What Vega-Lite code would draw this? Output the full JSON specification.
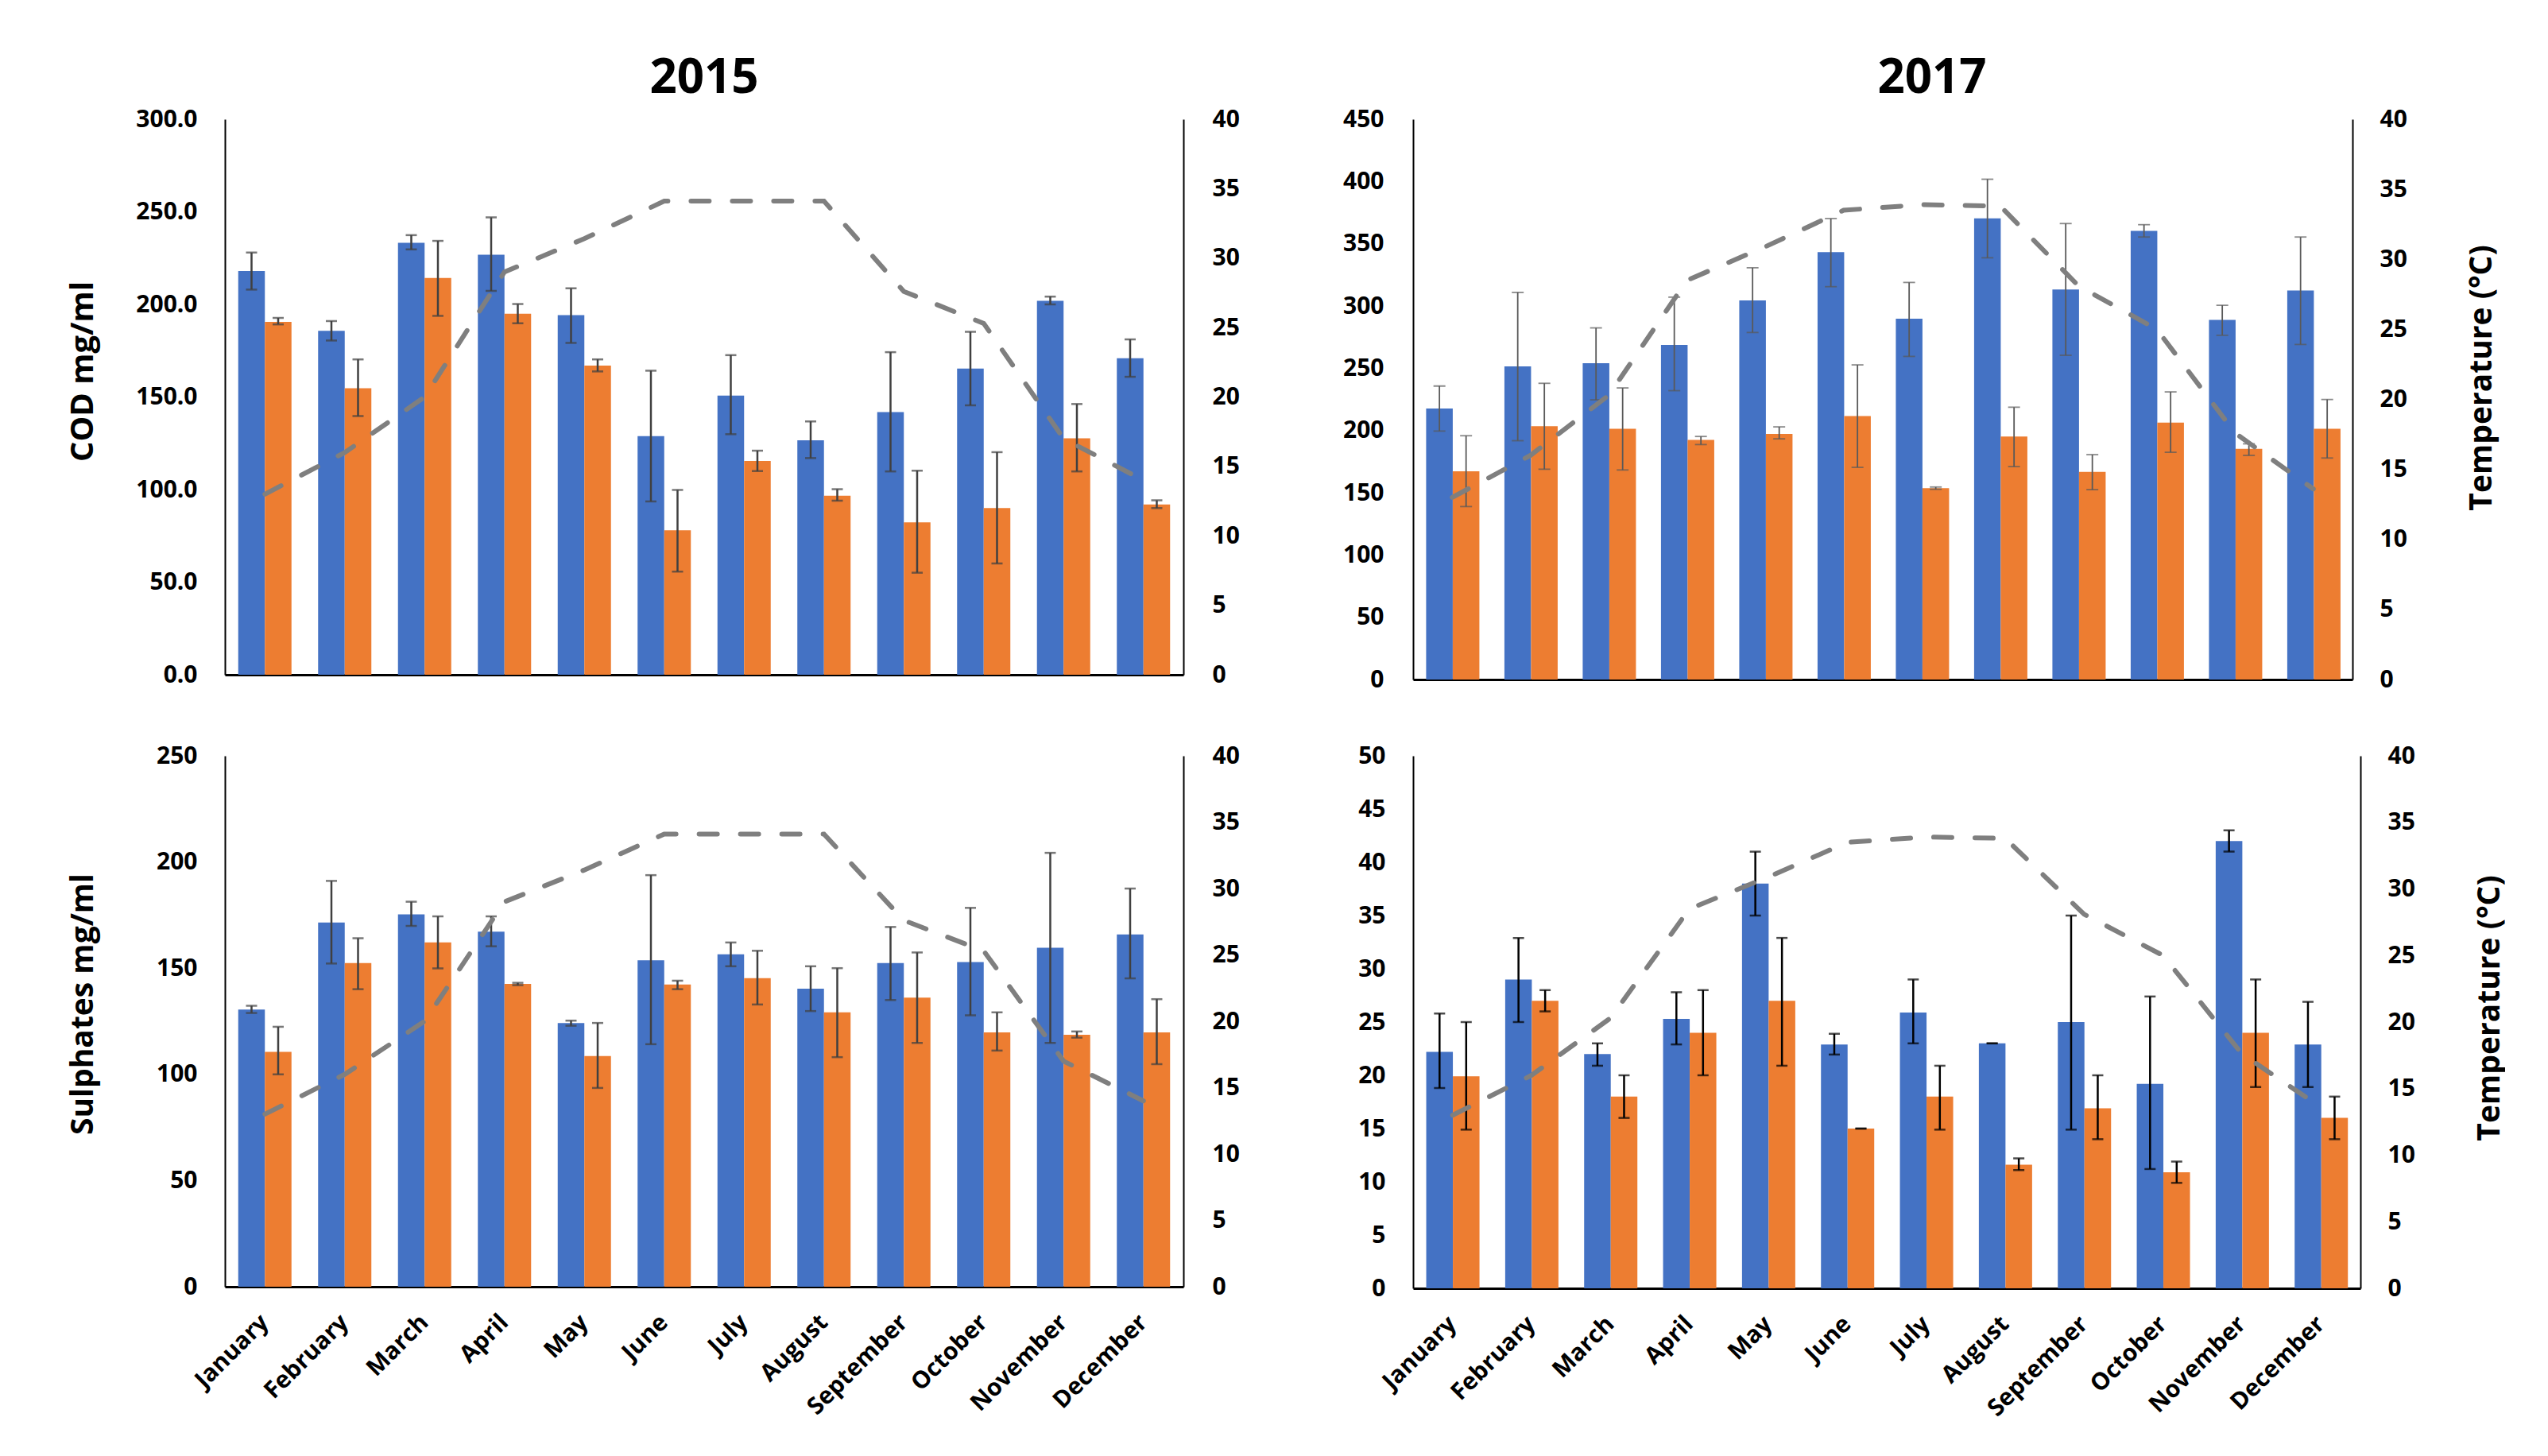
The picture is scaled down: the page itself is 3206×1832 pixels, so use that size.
{
  "$schema": "https://vega.github.io/schema/vega-lite/v6.json",
  "background": "white",
  "padding": {"left": 84, "top": 69, "right": 0, "bottom": 0},
  "config": {"view": {"stroke": null}, "font": "Open Sans"},
  "datasets": {
    "cod2015": [
      {"month": "January", "series": "a", "value": 218, "lo": 208, "hi": 228},
      {"month": "January", "series": "b", "value": 190.6, "lo": 189.2, "hi": 192.7},
      {"month": "February", "series": "a", "value": 185.7, "lo": 180.5, "hi": 191},
      {"month": "February", "series": "b", "value": 154.7, "lo": 139.7, "hi": 170.3},
      {"month": "March", "series": "a", "value": 233.3, "lo": 229.7, "hi": 237.4},
      {"month": "March", "series": "b", "value": 214.3, "lo": 193.8, "hi": 234.3},
      {"month": "April", "series": "a", "value": 226.8, "lo": 207.3, "hi": 247},
      {"month": "April", "series": "b", "value": 195, "lo": 189.8, "hi": 200.2},
      {"month": "May", "series": "a", "value": 194.2, "lo": 179.2, "hi": 208.7},
      {"month": "May", "series": "b", "value": 166.9, "lo": 163.8, "hi": 170.3},
      {"month": "June", "series": "a", "value": 128.9, "lo": 93.6, "hi": 164.2},
      {"month": "June", "series": "b", "value": 78, "lo": 55.7, "hi": 99.8},
      {"month": "July", "series": "a", "value": 150.7, "lo": 129.9, "hi": 172.6},
      {"month": "July", "series": "b", "value": 115.4, "lo": 110, "hi": 121},
      {"month": "August", "series": "a", "value": 126.6, "lo": 117, "hi": 136.8},
      {"month": "August", "series": "b", "value": 96.7, "lo": 94, "hi": 100.2},
      {"month": "September", "series": "a", "value": 141.8, "lo": 109.8, "hi": 174.2},
      {"month": "September", "series": "b", "value": 82.3, "lo": 55.1, "hi": 110.2},
      {"month": "October", "series": "a", "value": 165.3, "lo": 145.5, "hi": 185.2},
      {"month": "October", "series": "b", "value": 90, "lo": 60.1, "hi": 120.2},
      {"month": "November", "series": "a", "value": 201.9, "lo": 200, "hi": 204.2},
      {"month": "November", "series": "b", "value": 127.7, "lo": 109.8, "hi": 146.2},
      {"month": "December", "series": "a", "value": 170.9, "lo": 160.9, "hi": 181.1},
      {"month": "December", "series": "b", "value": 91.9, "lo": 90, "hi": 94.2}
    ],
    "cod2017": [
      {"month": "January", "series": "a", "value": 217.7, "lo": 199.5, "hi": 235.7},
      {"month": "January", "series": "b", "value": 167.3, "lo": 138.9, "hi": 195.8},
      {"month": "February", "series": "a", "value": 251.5, "lo": 191.8, "hi": 310.9},
      {"month": "February", "series": "b", "value": 203.5, "lo": 168.9, "hi": 237.9},
      {"month": "March", "series": "a", "value": 254, "lo": 224.6, "hi": 282.4},
      {"month": "March", "series": "b", "value": 201.4, "lo": 168.3, "hi": 234.2},
      {"month": "April", "series": "a", "value": 268.8, "lo": 232, "hi": 307.1},
      {"month": "April", "series": "b", "value": 192.4, "lo": 188.7, "hi": 195.2},
      {"month": "May", "series": "a", "value": 304.4, "lo": 278.7, "hi": 330.7},
      {"month": "May", "series": "b", "value": 197.3, "lo": 193.3, "hi": 202.9},
      {"month": "June", "series": "a", "value": 343.3, "lo": 315.5, "hi": 370.2},
      {"month": "June", "series": "b", "value": 211.6, "lo": 170.4, "hi": 252.7},
      {"month": "July", "series": "a", "value": 289.8, "lo": 259.5, "hi": 318.9},
      {"month": "July", "series": "b", "value": 153.7, "lo": 152.8, "hi": 154.6},
      {"month": "August", "series": "a", "value": 370.3, "lo": 338.7, "hi": 401.8},
      {"month": "August", "series": "b", "value": 195.2, "lo": 171, "hi": 218.7},
      {"month": "September", "series": "a", "value": 313.3, "lo": 260.4, "hi": 366.2},
      {"month": "September", "series": "b", "value": 166.7, "lo": 152.5, "hi": 180.6},
      {"month": "October", "series": "a", "value": 360.3, "lo": 355.4, "hi": 365.3},
      {"month": "October", "series": "b", "value": 206.3, "lo": 182.5, "hi": 231},
      {"month": "November", "series": "a", "value": 288.9, "lo": 276.5, "hi": 300.6},
      {"month": "November", "series": "b", "value": 185.3, "lo": 180, "hi": 189.3},
      {"month": "December", "series": "a", "value": 312.4, "lo": 269.1, "hi": 355.4},
      {"month": "December", "series": "b", "value": 201.4, "lo": 177.9, "hi": 224.9}
    ],
    "sul2015": [
      {"month": "January", "series": "a", "value": 130.5, "lo": 128.9, "hi": 132.3},
      {"month": "January", "series": "b", "value": 110.6, "lo": 100, "hi": 122.4},
      {"month": "February", "series": "a", "value": 171.5, "lo": 152.2, "hi": 191.1},
      {"month": "February", "series": "b", "value": 152.4, "lo": 140.1, "hi": 164.1},
      {"month": "March", "series": "a", "value": 175.3, "lo": 169.9, "hi": 181.3},
      {"month": "March", "series": "b", "value": 162.1, "lo": 149.9, "hi": 174.4},
      {"month": "April", "series": "a", "value": 167.2, "lo": 160.3, "hi": 174.4},
      {"month": "April", "series": "b", "value": 142.6, "lo": 142, "hi": 143.1},
      {"month": "May", "series": "a", "value": 124.2, "lo": 122.9, "hi": 125.3},
      {"month": "May", "series": "b", "value": 108.6, "lo": 93.6, "hi": 124.2},
      {"month": "June", "series": "a", "value": 153.7, "lo": 114.2, "hi": 193.8},
      {"month": "June", "series": "b", "value": 142.3, "lo": 140.1, "hi": 144.1},
      {"month": "July", "series": "a", "value": 156.5, "lo": 150.9, "hi": 162.1},
      {"month": "July", "series": "b", "value": 145.3, "lo": 132.9, "hi": 158.2},
      {"month": "August", "series": "a", "value": 140.3, "lo": 129.8, "hi": 150.9},
      {"month": "August", "series": "b", "value": 129.2, "lo": 108.1, "hi": 150},
      {"month": "September", "series": "a", "value": 152.4, "lo": 135, "hi": 169.4},
      {"month": "September", "series": "b", "value": 136.1, "lo": 114.8, "hi": 157.4},
      {"month": "October", "series": "a", "value": 152.9, "lo": 127.8, "hi": 178.4},
      {"month": "October", "series": "b", "value": 119.8, "lo": 111.2, "hi": 129.2},
      {"month": "November", "series": "a", "value": 159.6, "lo": 114.8, "hi": 204.3},
      {"month": "November", "series": "b", "value": 118.6, "lo": 117.3, "hi": 120.2},
      {"month": "December", "series": "a", "value": 165.9, "lo": 145.2, "hi": 187.5},
      {"month": "December", "series": "b", "value": 119.8, "lo": 104.8, "hi": 135.4}
    ],
    "sul2017": [
      {"month": "January", "series": "a", "value": 22.2, "lo": 18.8, "hi": 25.8},
      {"month": "January", "series": "b", "value": 19.9, "lo": 14.9, "hi": 25},
      {"month": "February", "series": "a", "value": 29, "lo": 25, "hi": 32.9},
      {"month": "February", "series": "b", "value": 27, "lo": 26, "hi": 28},
      {"month": "March", "series": "a", "value": 22, "lo": 20.9, "hi": 23},
      {"month": "March", "series": "b", "value": 18, "lo": 16, "hi": 20},
      {"month": "April", "series": "a", "value": 25.3, "lo": 22.9, "hi": 27.8},
      {"month": "April", "series": "b", "value": 24, "lo": 20, "hi": 28},
      {"month": "May", "series": "a", "value": 38, "lo": 35, "hi": 41},
      {"month": "May", "series": "b", "value": 27, "lo": 20.9, "hi": 32.9},
      {"month": "June", "series": "a", "value": 22.9, "lo": 21.95, "hi": 23.9},
      {"month": "June", "series": "b", "value": 15, "lo": 15, "hi": 15},
      {"month": "July", "series": "a", "value": 25.9, "lo": 23, "hi": 29},
      {"month": "July", "series": "b", "value": 18, "lo": 14.9, "hi": 20.9},
      {"month": "August", "series": "a", "value": 23, "lo": 23, "hi": 23},
      {"month": "August", "series": "b", "value": 11.6, "lo": 11.1, "hi": 12.2},
      {"month": "September", "series": "a", "value": 25, "lo": 14.9, "hi": 35},
      {"month": "September", "series": "b", "value": 16.9, "lo": 14, "hi": 20},
      {"month": "October", "series": "a", "value": 19.2, "lo": 11.2, "hi": 27.4},
      {"month": "October", "series": "b", "value": 10.9, "lo": 9.9, "hi": 11.9},
      {"month": "November", "series": "a", "value": 42, "lo": 41, "hi": 43},
      {"month": "November", "series": "b", "value": 24, "lo": 18.9, "hi": 29},
      {"month": "December", "series": "a", "value": 22.9, "lo": 18.9, "hi": 26.9},
      {"month": "December", "series": "b", "value": 16, "lo": 14, "hi": 18}
    ],
    "temp2015": [
      {"month": "January", "temp": 13},
      {"month": "February", "temp": 16},
      {"month": "March", "temp": 20},
      {"month": "April", "temp": 29},
      {"month": "May", "temp": 31.4},
      {"month": "June", "temp": 34.1},
      {"month": "July", "temp": 34.1},
      {"month": "August", "temp": 34.1},
      {"month": "September", "temp": 27.6},
      {"month": "October", "temp": 25.3},
      {"month": "November", "temp": 17},
      {"month": "December", "temp": 14}
    ],
    "temp2017": [
      {"month": "January", "temp": 13},
      {"month": "February", "temp": 16},
      {"month": "March", "temp": 20.3},
      {"month": "April", "temp": 28.5},
      {"month": "May", "temp": 30.9},
      {"month": "June", "temp": 33.5},
      {"month": "July", "temp": 33.9},
      {"month": "August", "temp": 33.8},
      {"month": "September", "temp": 28.1},
      {"month": "October", "temp": 25},
      {"month": "November", "temp": 17.6},
      {"month": "December", "temp": 13.6}
    ]
  },
  "columns": 2,
  "spacing": {"row": 66, "column": 129},
  "concat": [
    {
      "width": 1206, "height": 699,
      "title": {"text": "2015", "font": "Open Sans", "fontSize": 60, "fontWeight": "bold", "color": "black", "anchor": "middle", "frame": "group", "baseline": "alphabetic", "offset": -42},
      "layer": [
        {
          "data": {"name": "cod2015"},
          "encoding": {
            "x": {"field": "month", "type": "nominal", "sort": ["January","February","March","April","May","June","July","August","September","October","November","December"], "scale": {"paddingInner": 0.3333, "paddingOuter": 0.1667}, "axis": {"labels": false, "ticks": false, "title": null, "domainColor": "black", "domainWidth": 3}},
            "xOffset": {"field": "series", "type": "nominal", "scale": {"paddingInner": 0, "paddingOuter": 0}}
          },
          "layer": [
            {"mark": {"type": "bar"}, "encoding": {
              "y": {"field": "value", "type": "quantitative", "scale": {"domain": [0, 300], "nice": false}, "axis": {"orient": "left", "values": [0,50,100,150,200,250,300], "format": ".1f", "ticks": false, "grid": false, "domainColor": "black", "domainWidth": 2, "labelFont": "Open Sans", "labelFontSize": 30, "labelFontWeight": "bold", "labelColor": "black", "labelPadding": 35, "title": "COD mg/ml", "titleFont": "Open Sans", "titleFontSize": 40, "titleFontWeight": "bold", "titleColor": "black", "titleX": -167, "titleY": 317, "titleAngle": -90, "titleBaseline": "alphabetic", "titleAlign": "center"}},
              "color": {"field": "series", "type": "nominal", "scale": {"domain": ["a","b"], "range": ["#4472C4","#ED7D31"]}, "legend": null}
            }},
            {"mark": {"type": "rule", "color": "#404040", "strokeWidth": 2.5}, "encoding": {"y": {"field": "lo", "type": "quantitative"}, "y2": {"field": "hi"}}},
            {"mark": {"type": "tick", "color": "#404040", "size": 14, "thickness": 2.5}, "encoding": {"y": {"field": "lo", "type": "quantitative"}}},
            {"mark": {"type": "tick", "color": "#404040", "size": 14, "thickness": 2.5}, "encoding": {"y": {"field": "hi", "type": "quantitative"}}}
          ]
        },
        {
          "data": {"name": "temp2015"},
          "mark": {"type": "line", "color": "#7F7F7F", "strokeWidth": 6, "strokeDash": [23, 29], "strokeCap": "round"},
          "encoding": {
            "x": {"field": "month", "type": "nominal", "sort": ["January","February","March","April","May","June","July","August","September","October","November","December"]},
            "y": {"field": "temp", "type": "quantitative", "scale": {"domain": [0, 40], "nice": false}, "axis": {"orient": "right", "values": [0,5,10,15,20,25,30,35,40], "ticks": false, "grid": false, "domainColor": "black", "domainWidth": 2, "labelFont": "Open Sans", "labelFontSize": 30, "labelFontWeight": "bold", "labelColor": "black", "labelPadding": 36, "title": null}}
          }
        }
      ],
      "resolve": {"scale": {"y": "independent"}}
    },
    {
      "width": 1182, "height": 705,
      "title": {"text": "2017", "font": "Open Sans", "fontSize": 60, "fontWeight": "bold", "color": "black", "anchor": "middle", "frame": "group", "baseline": "alphabetic", "offset": -42, "dx": 62},
      "layer": [
        {
          "data": {"name": "cod2017"},
          "encoding": {
            "x": {"field": "month", "type": "nominal", "sort": ["January","February","March","April","May","June","July","August","September","October","November","December"], "scale": {"paddingInner": 0.3333, "paddingOuter": 0.1667}, "axis": {"labels": false, "ticks": false, "title": null, "domainColor": "black", "domainWidth": 3}},
            "xOffset": {"field": "series", "type": "nominal", "scale": {"paddingInner": 0, "paddingOuter": 0}}
          },
          "layer": [
            {"mark": {"type": "bar"}, "encoding": {
              "y": {"field": "value", "type": "quantitative", "scale": {"domain": [0, 450], "nice": false}, "axis": {"orient": "left", "values": [0,50,100,150,200,250,300,350,400,450], "ticks": false, "grid": false, "domainColor": "black", "domainWidth": 2, "labelFont": "Open Sans", "labelFontSize": 30, "labelFontWeight": "bold", "labelColor": "black", "labelPadding": 37, "title": null}},
              "color": {"field": "series", "type": "nominal", "scale": {"domain": ["a","b"], "range": ["#4472C4","#ED7D31"]}, "legend": null}
            }},
            {"mark": {"type": "rule", "color": "#595959", "strokeWidth": 1.8}, "encoding": {"y": {"field": "lo", "type": "quantitative"}, "y2": {"field": "hi"}}},
            {"mark": {"type": "tick", "color": "#595959", "size": 15, "thickness": 1.8}, "encoding": {"y": {"field": "lo", "type": "quantitative"}}},
            {"mark": {"type": "tick", "color": "#595959", "size": 15, "thickness": 1.8}, "encoding": {"y": {"field": "hi", "type": "quantitative"}}}
          ]
        },
        {
          "data": {"name": "temp2017"},
          "mark": {"type": "line", "color": "#7F7F7F", "strokeWidth": 6, "strokeDash": [23, 29], "strokeCap": "round"},
          "encoding": {
            "x": {"field": "month", "type": "nominal", "sort": ["January","February","March","April","May","June","July","August","September","October","November","December"]},
            "y": {"field": "temp", "type": "quantitative", "scale": {"domain": [0, 40], "nice": false}, "axis": {"orient": "right", "values": [0,5,10,15,20,25,30,35,40], "ticks": false, "grid": false, "domainColor": "black", "domainWidth": 2, "labelFont": "Open Sans", "labelFontSize": 30, "labelFontWeight": "bold", "labelColor": "black", "labelPadding": 34, "title": "Temperature (°C)", "titleFont": "Open Sans", "titleFontSize": 39, "titleFontWeight": "bold", "titleColor": "black", "titleX": 174, "titleY": 325, "titleAngle": -90, "titleBaseline": "alphabetic", "titleAlign": "center"}}
          }
        }
      ],
      "resolve": {"scale": {"y": "independent"}}
    },
    {
      "width": 1206, "height": 668,
      "layer": [
        {
          "data": {"name": "sul2015"},
          "encoding": {
            "x": {"field": "month", "type": "nominal", "sort": ["January","February","March","April","May","June","July","August","September","October","November","December"], "scale": {"paddingInner": 0.3333, "paddingOuter": 0.1667}, "axis": {"labels": true, "labelAngle": -45, "labelAlign": "right", "labelBaseline": "middle", "labelPadding": 40, "labelFont": "Open Sans", "labelFontSize": 30, "labelFontWeight": "bold", "labelColor": "black", "ticks": false, "title": null, "domainColor": "black", "domainWidth": 3}},
            "xOffset": {"field": "series", "type": "nominal", "scale": {"paddingInner": 0, "paddingOuter": 0}}
          },
          "layer": [
            {"mark": {"type": "bar"}, "encoding": {
              "y": {"field": "value", "type": "quantitative", "scale": {"domain": [0, 250], "nice": false}, "axis": {"orient": "left", "values": [0,50,100,150,200,250], "ticks": false, "grid": false, "domainColor": "black", "domainWidth": 2, "labelFont": "Open Sans", "labelFontSize": 30, "labelFontWeight": "bold", "labelColor": "black", "labelPadding": 35, "title": "Sulphates mg/ml", "titleFont": "Open Sans", "titleFontSize": 39, "titleFontWeight": "bold", "titleColor": "black", "titleX": -167, "titleY": 312, "titleAngle": -90, "titleBaseline": "alphabetic", "titleAlign": "center"}},
              "color": {"field": "series", "type": "nominal", "scale": {"domain": ["a","b"], "range": ["#4472C4","#ED7D31"]}, "legend": null}
            }},
            {"mark": {"type": "rule", "color": "#404040", "strokeWidth": 2.5}, "encoding": {"y": {"field": "lo", "type": "quantitative"}, "y2": {"field": "hi"}}},
            {"mark": {"type": "tick", "color": "#404040", "size": 14, "thickness": 2.5}, "encoding": {"y": {"field": "lo", "type": "quantitative"}}},
            {"mark": {"type": "tick", "color": "#404040", "size": 14, "thickness": 2.5}, "encoding": {"y": {"field": "hi", "type": "quantitative"}}}
          ]
        },
        {
          "data": {"name": "temp2015"},
          "mark": {"type": "line", "color": "#7F7F7F", "strokeWidth": 6, "strokeDash": [23, 29], "strokeCap": "round"},
          "encoding": {
            "x": {"field": "month", "type": "nominal", "sort": ["January","February","March","April","May","June","July","August","September","October","November","December"]},
            "y": {"field": "temp", "type": "quantitative", "scale": {"domain": [0, 40], "nice": false}, "axis": {"orient": "right", "values": [0,5,10,15,20,25,30,35,40], "ticks": false, "grid": false, "domainColor": "black", "domainWidth": 2, "labelFont": "Open Sans", "labelFontSize": 30, "labelFontWeight": "bold", "labelColor": "black", "labelPadding": 36, "title": null}}
          }
        }
      ],
      "resolve": {"scale": {"y": "independent"}}
    },
    {
      "width": 1192, "height": 670,
      "layer": [
        {
          "data": {"name": "sul2017"},
          "encoding": {
            "x": {"field": "month", "type": "nominal", "sort": ["January","February","March","April","May","June","July","August","September","October","November","December"], "scale": {"paddingInner": 0.3333, "paddingOuter": 0.1667}, "axis": {"labels": true, "labelAngle": -45, "labelAlign": "right", "labelBaseline": "middle", "labelPadding": 40, "labelFont": "Open Sans", "labelFontSize": 30, "labelFontWeight": "bold", "labelColor": "black", "ticks": false, "title": null, "domainColor": "black", "domainWidth": 3}},
            "xOffset": {"field": "series", "type": "nominal", "scale": {"paddingInner": 0, "paddingOuter": 0}}
          },
          "layer": [
            {"mark": {"type": "bar"}, "encoding": {
              "y": {"field": "value", "type": "quantitative", "scale": {"domain": [0, 50], "nice": false}, "axis": {"orient": "left", "values": [0,5,10,15,20,25,30,35,40,45,50], "ticks": false, "grid": false, "domainColor": "black", "domainWidth": 2, "labelFont": "Open Sans", "labelFontSize": 30, "labelFontWeight": "bold", "labelColor": "black", "labelPadding": 35, "title": null}},
              "color": {"field": "series", "type": "nominal", "scale": {"domain": ["a","b"], "range": ["#4472C4","#ED7D31"]}, "legend": null}
            }},
            {"mark": {"type": "rule", "color": "black", "strokeWidth": 2.5}, "encoding": {"y": {"field": "lo", "type": "quantitative"}, "y2": {"field": "hi"}}},
            {"mark": {"type": "tick", "color": "black", "size": 14, "thickness": 2.5}, "encoding": {"y": {"field": "lo", "type": "quantitative"}}},
            {"mark": {"type": "tick", "color": "black", "size": 14, "thickness": 2.5}, "encoding": {"y": {"field": "hi", "type": "quantitative"}}}
          ]
        },
        {
          "data": {"name": "temp2017"},
          "mark": {"type": "line", "color": "#7F7F7F", "strokeWidth": 6, "strokeDash": [23, 29], "strokeCap": "round"},
          "encoding": {
            "x": {"field": "month", "type": "nominal", "sort": ["January","February","March","April","May","June","July","August","September","October","November","December"]},
            "y": {"field": "temp", "type": "quantitative", "scale": {"domain": [0, 40], "nice": false}, "axis": {"orient": "right", "values": [0,5,10,15,20,25,30,35,40], "ticks": false, "grid": false, "domainColor": "black", "domainWidth": 2, "labelFont": "Open Sans", "labelFontSize": 30, "labelFontWeight": "bold", "labelColor": "black", "labelPadding": 34, "title": "Temperature (°C)", "titleFont": "Open Sans", "titleFontSize": 39, "titleFontWeight": "bold", "titleColor": "black", "titleX": 174, "titleY": 317, "titleAngle": -90, "titleBaseline": "alphabetic", "titleAlign": "center"}}
          }
        }
      ],
      "resolve": {"scale": {"y": "independent"}}
    }
  ]
}
